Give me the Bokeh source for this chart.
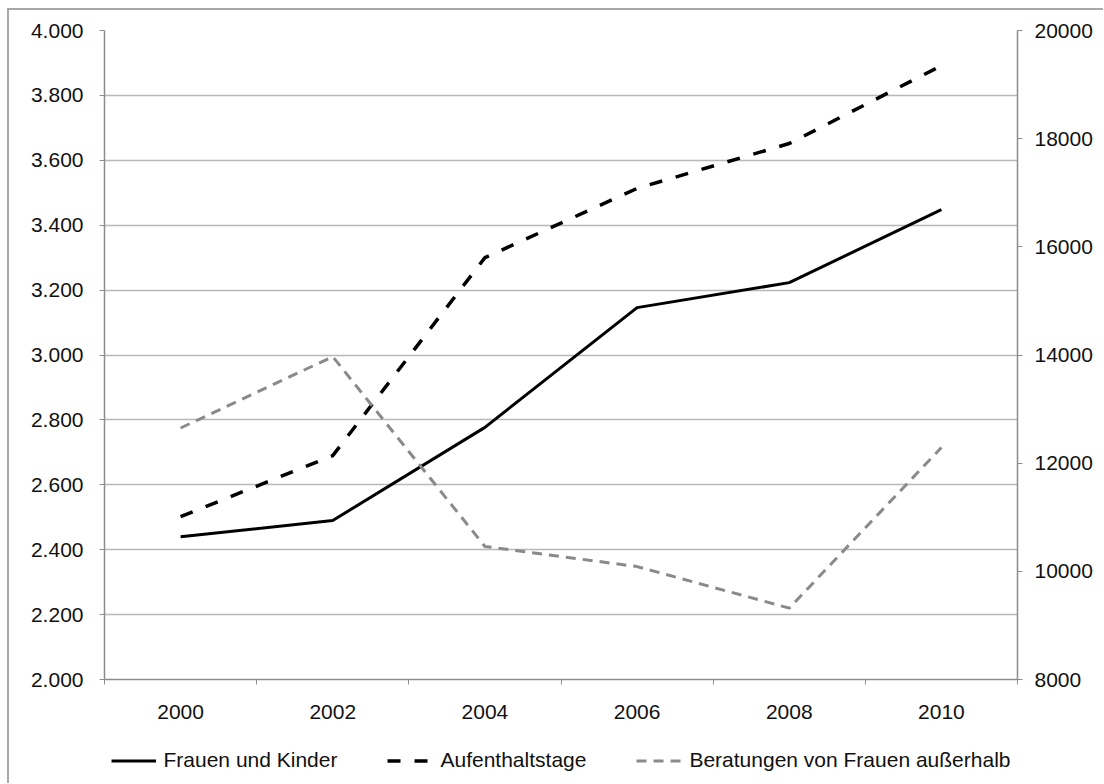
from bokeh.plotting import figure
from bokeh.layouts import column
from bokeh.models import Range1d, LinearAxis, FixedTicker, Legend, LegendItem
from bokeh.embed import file_html
from bokeh.resources import INLINE

# Jahre und Zeitreihen
years = ["2000", "2002", "2004", "2006", "2008", "2010"]
frauen_und_kinder = [2440, 2490, 2777, 3146, 3223, 3448]
beratungen_ausserhalb = [2775, 2995, 2410, 2348, 2220, 2715]
aufenthaltstage = [11010, 12140, 15800, 17080, 17910, 19350]

left_ticks = list(range(2000, 4001, 200))
right_ticks = list(range(8000, 20001, 2000))

FONT = "Liberation Sans"
AXIS_GREY = "#8c8c8c"
GRID_GREY = "#b8b8b8"
TICK_SIZE = "21px"

# line styles shared by the chart and its legend strip
STYLES = {
    "fk": dict(line_color="black", line_width=3),
    "auf": dict(line_color="black", line_width=3.5, line_dash="13 14"),
    "ber": dict(line_color="#8a8a8a", line_width=3, line_dash="10 7"),
}

x = list(range(len(years)))

p = figure(
    frame_width=913, frame_height=649,
    x_range=Range1d(-0.5, len(years) - 0.5),
    y_range=Range1d(2000, 4000),
    output_backend="svg", toolbar_location=None,
    min_border_left=95, min_border_right=86,
    min_border_top=20, min_border_bottom=58,
)
p.outline_line_color = None
p.background_fill_color = "white"
p.border_fill_color = "white"

p.extra_y_ranges = {"right": Range1d(8000, 20000)}

# x axis: labels at the years, tick marks between them
xa = p.xaxis[0]
xa.ticker = FixedTicker(ticks=x, minor_ticks=[i - 0.5 for i in range(len(years) + 1)])
xa.major_label_overrides = {i: y for i, y in enumerate(years)}
xa.major_tick_out = 0
xa.major_tick_in = 0
xa.minor_tick_out = 5
xa.minor_tick_in = 0
xa.minor_tick_line_color = AXIS_GREY
xa.axis_line_color = AXIS_GREY
xa.axis_line_width = 1.5
xa.major_label_standoff = 20
xa.major_label_text_font = FONT
xa.major_label_text_font_size = TICK_SIZE
xa.major_label_text_color = "#111111"

# left axis with German thousands separator
ya = p.yaxis[0]
ya.ticker = FixedTicker(ticks=left_ticks, minor_ticks=[])
ya.major_label_overrides = {v: f"{v // 1000}.{v % 1000:03d}" for v in left_ticks}
ya.major_tick_out = 5
ya.major_tick_in = 0
ya.major_tick_line_color = AXIS_GREY
ya.axis_line_color = AXIS_GREY
ya.axis_line_width = 1.5
ya.major_label_standoff = 16
ya.major_label_text_font = FONT
ya.major_label_text_font_size = TICK_SIZE
ya.major_label_text_color = "#111111"

# right axis for Aufenthaltstage
ra = LinearAxis(y_range_name="right", ticker=FixedTicker(ticks=right_ticks, minor_ticks=[]))
ra.major_tick_out = 5
ra.major_tick_in = 0
ra.major_tick_line_color = AXIS_GREY
ra.axis_line_color = AXIS_GREY
ra.axis_line_width = 1.5
ra.major_label_standoff = 12
ra.major_label_text_font = FONT
ra.major_label_text_font_size = TICK_SIZE
ra.major_label_text_color = "#111111"
p.add_layout(ra, "right")

p.xgrid.grid_line_color = None
p.ygrid.grid_line_color = GRID_GREY
p.ygrid.grid_line_width = 1.5

p.line(x, frauen_und_kinder, **STYLES["fk"])
p.line(x, aufenthaltstage, y_range_name="right", **STYLES["auf"])
p.line(x, beratungen_ausserhalb, **STYLES["ber"])

# legend strip underneath the chart, aligned with the plot frame
lg = figure(
    frame_width=913, frame_height=46,
    x_range=Range1d(0, 1), y_range=Range1d(0, 1),
    x_axis_type=None, y_axis_type=None,
    output_backend="svg", toolbar_location=None,
    min_border_left=95, min_border_right=86,
    min_border_top=0, min_border_bottom=0,
)
lg.outline_line_color = None
lg.grid.grid_line_color = None
# key samples sit outside the strip's visible range; only the legend shows them
k1 = lg.line([-5, -4], [-5, -4], **STYLES["fk"])
k2 = lg.line([-5, -4], [-5, -4], **STYLES["auf"])
k3 = lg.line([-5, -4], [-5, -4], **STYLES["ber"])

legend = Legend(
    items=[
        LegendItem(label="Frauen und Kinder", renderers=[k1]),
        LegendItem(label="Aufenthaltstage", renderers=[k2]),
        LegendItem(label="Beratungen von Frauen außerhalb", renderers=[k3]),
    ],
    orientation="horizontal",
    location="center",
    glyph_width=45, glyph_height=21,
    label_standoff=8, spacing=50,
    padding=0, margin=0,
    border_line_color=None, background_fill_alpha=0,
    label_text_font=FONT, label_text_font_size="21px",
    label_text_color="#111111",
)
lg.add_layout(legend, "center")

page = column(
    p, lg, spacing=0,
    margin=(8, 0, 0, 7),
    styles={"border-left": "2px solid #a8a8a8", "border-top": "2px solid #a8a8a8"},
)

open("out.html", "w").write(file_html(page, INLINE))
